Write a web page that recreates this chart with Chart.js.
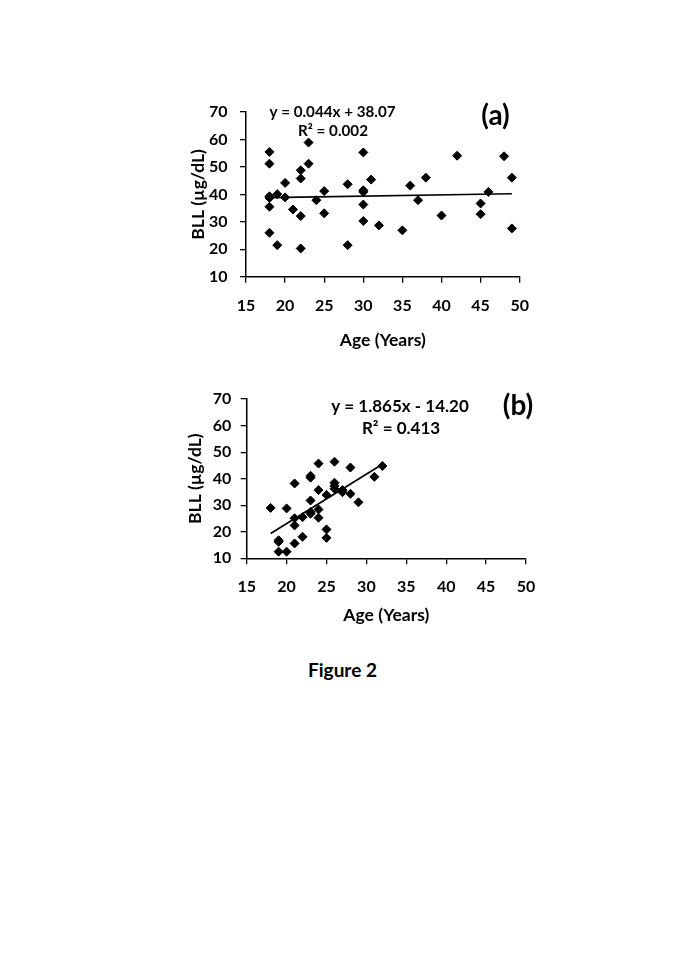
<!DOCTYPE html>
<html>
<head>
<meta charset="utf-8">
<script src="https://cdn.jsdelivr.net/npm/chart.js@4.4.1/dist/chart.umd.min.js"></script>
<style>
  html, body { margin: 0; padding: 0; background: #fff; }
  body { width: 685px; height: 969px; position: relative; overflow: hidden; }
  canvas { position: absolute; }
  #chartA { left: 150px; top: 90px; }
  #chartB { left: 150px; top: 380px; }
  #caption {
    position: absolute; left: 0; width: 685px; top: 658px;
    text-align: center; font: bold 19px Lato, sans-serif; color: #000;
  }
</style>
</head>
<body>
<canvas id="chartA" width="400" height="270"></canvas>
<canvas id="chartB" width="400" height="260"></canvas>
<div id="caption">Figure 2</div>
<script>
// panel (a)
const ageA = [18, 18, 18, 18, 18, 18, 19, 19, 20, 20, 21, 22, 22, 22, 22, 23, 23, 24, 25, 25,
  28, 28, 30, 30, 30, 30, 30, 31, 32, 35, 36, 37, 38, 40, 42, 45, 45, 46, 48, 49, 49];
const bllA = [55.5, 51.2, 39.3, 38.7, 35.5, 26.0, 40.1, 21.5, 44.2, 38.9, 34.5, 48.8, 45.8, 32.1, 20.3, 58.9, 51.2, 37.9, 41.2, 33.1,
  43.7, 21.5, 55.3, 41.5, 40.9, 36.3, 30.3, 45.4, 28.7, 26.9, 43.2, 37.9, 46.1, 32.3, 54.1, 36.7, 32.8, 40.9, 53.9, 46.1, 27.6];
const trendAgeA = [18, 49];
const trendBllA = [38.86, 40.23];
const eqA = ["y = 0.044x + 38.07", "R\u00b2 = 0.002"];

// panel (b)
const ageB = [18, 19, 19, 19, 20, 20, 21, 21, 21, 21, 22, 22, 23, 23, 23, 23, 23, 24, 24, 24, 24,
  25, 25, 25, 26, 26, 26, 26, 27, 27, 28, 28, 29, 31, 32];
const bllB = [29.0, 16.8, 16.2, 12.5, 28.8, 12.5, 38.2, 25.1, 22.4, 15.6, 25.5, 18.1, 41.1, 40.4, 31.8, 27.4, 26.8, 45.7, 35.7, 28.4, 25.3,
  33.9, 20.9, 17.7, 46.4, 38.5, 37.3, 36.2, 35.7, 34.9, 44.2, 34.3, 31.1, 40.7, 44.8];
const trendAgeB = [18, 32];
const trendBllB = [19.37, 45.48];
const eqB = ["y = 1.865x - 14.20", "R\u00b2 = 0.413"];

const xTicks = [15, 20, 25, 30, 35, 40, 45, 50];
const yTicks = [10, 20, 30, 40, 50, 60, 70];
const xTitle = "Age (Years)";
const yTitle = "BLL (\u00b5g/dL)";

const FONT = "Lato, sans-serif";

const toPoints = (xs, ys) => xs.map((x, i) => ({ x: x, y: ys[i] }));

// draws the regression text and panel letter
const notesPlugin = {
  id: "notes",
  afterDraw(chart, args, opts) {
    const ctx = chart.ctx;
    ctx.save();
    ctx.fillStyle = "#000";
    ctx.textAlign = "center";
    ctx.textBaseline = "middle";
    opts.items.forEach(t => {
      ctx.font = t.font;
      ctx.fillText(t.text, t.x, t.y);
    });
    ctx.restore();
  }
};

function makeChart(id, cfg) {
  const axisTick = { size: 16, weight: "bold", family: FONT };
  const axisTitle = { size: 17.5, weight: "bold", family: FONT };
  new Chart(document.getElementById(id), {
    type: "scatter",
    data: {
      datasets: [
        {
          data: toPoints(cfg.ages, cfg.blls),
          pointStyle: "rectRot",
          pointRadius: 4.5,
          backgroundColor: "#000",
          borderColor: "#000",
          borderWidth: 1
        },
        {
          data: toPoints(cfg.trendX, cfg.trendY),
          showLine: true,
          pointRadius: 0,
          borderColor: "#000",
          borderWidth: 1.7
        }
      ]
    },
    options: {
      responsive: false,
      animation: false,
      layout: { padding: { left: 0, top: cfg.padTop, right: cfg.padRight, bottom: 0 } },
      plugins: {
        legend: { display: false },
        tooltip: { enabled: false },
        notes: { items: cfg.notes }
      },
      scales: {
        x: {
          min: 15, max: 50,
          afterFit: s => { s.height = cfg.xHeight; },
          afterBuildTicks: s => { s.ticks = xTicks.map(v => ({ value: v })); },
          border: { display: true, color: "#000", width: 1.5 },
          grid: { drawOnChartArea: false, drawTicks: true, tickLength: 6, color: "#000", lineWidth: 1.3 },
          ticks: { color: "#000", font: axisTick, padding: cfg.xTickPad, maxRotation: 0 },
          title: { display: true, text: xTitle, color: "#000", font: axisTitle, padding: { top: 0, bottom: cfg.xTitlePad } }
        },
        y: {
          min: 10, max: 70,
          afterFit: s => { s.width = cfg.yWidth; },
          afterBuildTicks: s => { s.ticks = yTicks.map(v => ({ value: v })); },
          border: { display: true, color: "#000", width: 1.5 },
          grid: { drawOnChartArea: false, drawTicks: true, tickLength: 6, color: "#000", lineWidth: 1.3 },
          ticks: { color: "#000", font: axisTick, padding: cfg.yTickPad },
          title: { display: true, text: yTitle, color: "#000", font: axisTitle, padding: { top: cfg.yTitlePad, bottom: 0 } }
        }
      }
    },
    plugins: [notesPlugin]
  });
}

makeChart("chartA", {
  ages: ageA, blls: bllA, trendX: trendAgeA, trendY: trendBllA,
  padTop: 21.5, padRight: 30.3, xHeight: 83.3, yWidth: 96,
  xTickPad: 13.5, xTitlePad: 9.5, yTickPad: 12.5, yTitlePad: 37.5,
  notes: [
    { text: eqA[0], x: 182.5, y: 22, font: "bold 15.2px " + FONT },
    { text: eqA[1], x: 183, y: 41, font: "bold 15.2px " + FONT },
    { text: "(a)", x: 345.5, y: 26, font: "bold 28px " + FONT }
  ]
});

makeChart("chartB", {
  ages: ageB, blls: bllB, trendX: trendAgeB, trendY: trendBllB,
  padTop: 18, padRight: 24, xHeight: 81.7, yWidth: 96.7,
  xTickPad: 12.8, xTitlePad: 14.5, yTickPad: 9.5, yTitlePad: 34.5,
  notes: [
    { text: eqB[0], x: 250, y: 26.7, font: "bold 17px " + FONT },
    { text: eqB[1], x: 251, y: 48.3, font: "bold 17px " + FONT },
    { text: "(b)", x: 368, y: 26, font: "bold 28px " + FONT }
  ]
});
</script>
</body>
</html>
